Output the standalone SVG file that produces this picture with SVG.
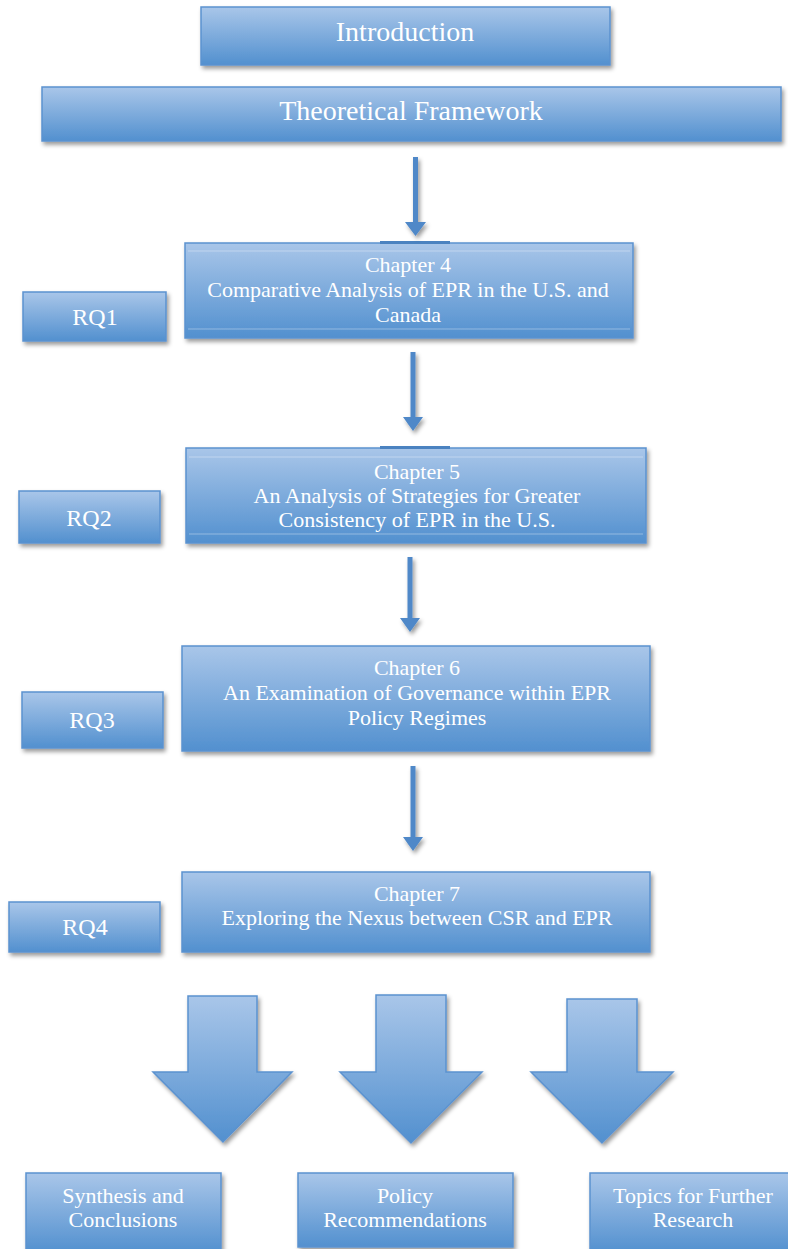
<svg xmlns="http://www.w3.org/2000/svg" width="788" height="1249" viewBox="0 0 788 1249">
<defs>
<linearGradient id="g" x1="0" y1="0" x2="0" y2="1">
<stop offset="0" stop-color="#a9c6e9"/>
<stop offset="1" stop-color="#5290cf"/>
</linearGradient>
<filter id="sh" x="-20%" y="-20%" width="150%" height="150%">
<feDropShadow dx="2" dy="3" stdDeviation="2" flood-color="#000" flood-opacity="0.4"/>
</filter>
</defs>
<style>
.box{fill:url(#g);stroke:#5b92cf;stroke-width:1.5;filter:url(#sh)}
.hl{stroke:#ffffff;stroke-opacity:0.35;stroke-width:1}
.t{fill:#ffffff;font-family:"Liberation Serif","Times New Roman",serif;text-anchor:middle}
.big{font-size:28px}
.mid{font-size:22px}
.rq{font-size:24px}
.con{fill:#4f88c8;stroke:none;filter:url(#sh)}
.tab{stroke:#4a82c0;stroke-width:3}
.barrow{fill:url(#g);stroke:#5b92cf;stroke-width:1.5;filter:url(#sh)}
</style>

<g id="introduction">
<rect class="box" x="201" y="7" width="409" height="58"/>
<text class="t big" x="405" y="41">Introduction</text>
</g>

<g id="theoretical-framework">
<rect class="box" x="42" y="87" width="739" height="54"/>
<text class="t big" x="411" y="120">Theoretical Framework</text>
</g>

<g id="chapter4">
<rect class="box" x="185" y="243" width="448" height="95"/>
<line class="hl" x1="188" y1="251" x2="630" y2="251"/>
<line class="hl" x1="188" y1="329" x2="630" y2="329"/>
<line class="tab" x1="380" y1="242.5" x2="450" y2="242.5"/>
<text class="t mid" x="408" y="272">Chapter 4</text>
<text class="t mid" x="408" y="297">Comparative Analysis of EPR in the U.S. and</text>
<text class="t mid" x="408" y="322">Canada</text>
</g>

<g id="rq1">
<rect class="box" x="23" y="292" width="143" height="49"/>
<text class="t rq" x="95" y="325">RQ1</text>
</g>

<g id="chapter5">
<rect class="box" x="186" y="448" width="460" height="95"/>
<line class="hl" x1="189" y1="457" x2="643" y2="457"/>
<line class="hl" x1="189" y1="534" x2="643" y2="534"/>
<line class="tab" x1="380" y1="447.5" x2="450" y2="447.5"/>
<text class="t mid" x="417" y="479">Chapter 5</text>
<text class="t mid" x="417" y="503">An Analysis of Strategies for Greater</text>
<text class="t mid" x="417" y="527">Consistency of EPR in the U.S.</text>
</g>

<g id="rq2">
<rect class="box" x="19" y="491" width="141" height="52"/>
<text class="t rq" x="89" y="526">RQ2</text>
</g>

<g id="chapter6">
<rect class="box" x="182" y="646" width="468" height="105"/>
<text class="t mid" x="417" y="675">Chapter 6</text>
<text class="t mid" x="417" y="700">An Examination of Governance within EPR</text>
<text class="t mid" x="417" y="725">Policy Regimes</text>
</g>

<g id="rq3">
<rect class="box" x="22" y="692" width="141" height="56"/>
<text class="t rq" x="92" y="728">RQ3</text>
</g>

<g id="chapter7">
<rect class="box" x="182" y="872" width="468" height="80"/>
<text class="t mid" x="417" y="901">Chapter 7</text>
<text class="t mid" x="417" y="925">Exploring the Nexus between CSR and EPR</text>
</g>

<g id="rq4">
<rect class="box" x="9" y="902" width="151" height="50"/>
<text class="t rq" x="85" y="935">RQ4</text>
</g>

<g id="synthesis">
<rect class="box" x="26" y="1173" width="195" height="80"/>
<text class="t mid" x="123" y="1203">Synthesis and</text>
<text class="t mid" x="123" y="1227">Conclusions</text>
</g>

<g id="policy">
<rect class="box" x="298" y="1173" width="215" height="74"/>
<text class="t mid" x="405" y="1203">Policy</text>
<text class="t mid" x="405" y="1227">Recommendations</text>
</g>

<g id="topics">
<rect class="box" x="590" y="1173" width="205" height="80"/>
<text class="t mid" x="693" y="1203">Topics for Further</text>
<text class="t mid" x="693" y="1227">Research</text>
</g>

<g id="connectors">
<path class="con" d="M413,157 L418,157 L418,222 L426,222 L415.5,236 L405,222 L413,222 Z"/>
<path class="con" d="M410.5,352 L415.5,352 L415.5,417 L423,417 L413,431 L403,417 L410.5,417 Z"/>
<path class="con" d="M407.5,557 L412.5,557 L412.5,618 L420,618 L410,632 L400,618 L407.5,618 Z"/>
<path class="con" d="M410.5,766 L415.5,766 L415.5,837 L423,837 L413,851 L403,837 L410.5,837 Z"/>
<path class="barrow" d="M188,996 L257,996 L257,1072 L292,1072 L223,1142 L153,1072 L188,1072 Z"/>
<path class="barrow" d="M376,995 L446,995 L446,1072 L482,1072 L411,1143 L340,1072 L376,1072 Z"/>
<path class="barrow" d="M567,999 L637,999 L637,1072 L673,1072 L602,1143 L531,1072 L567,1072 Z"/>
</g>
</svg>
